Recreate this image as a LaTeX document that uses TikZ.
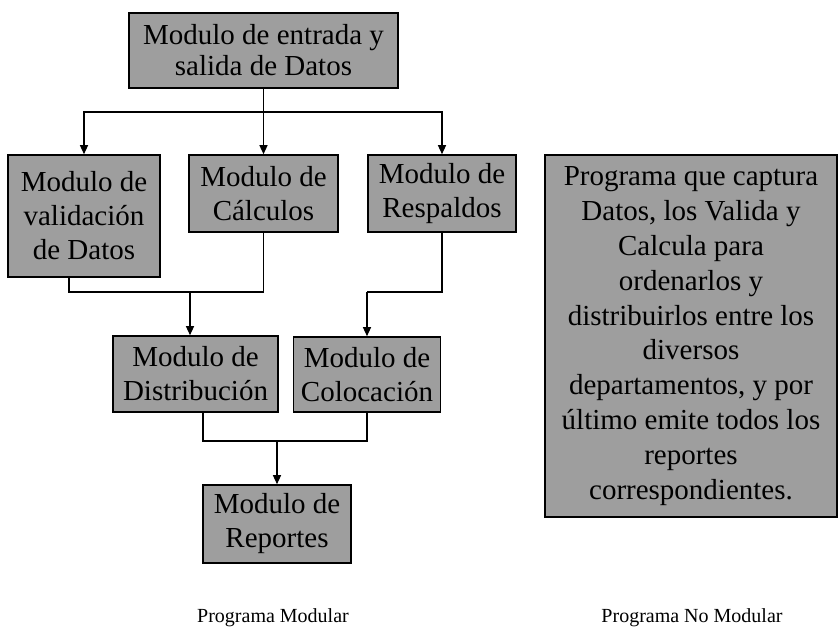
\documentclass[tikz,border=0pt]{standalone}
\usepackage{fontspec}
\setmainfont{Liberation Serif}
\usetikzlibrary{arrows.meta}
\definecolor{boxgray}{RGB}{158,158,158}
\begin{document}
\begin{tikzpicture}[x=1pt,y=-1pt,
  modbox/.style={draw=black, line width=1.6pt, fill=boxgray, inner sep=0pt,
    align=center, font=\fontsize{29}{34}\selectfont},
  link/.style={line width=1.3pt},
  flow/.style={link, -{Triangle[length=9pt,width=8pt]}},
  caption/.style={font=\fontsize{20}{24}\selectfont}]
\useasboundingbox (0,0) rectangle (838,633);

% modules of the modular program
\node[modbox, minimum width=269pt, minimum height=75pt,
      font=\fontsize{29}{31}\selectfont] (top) at (263.5,50.5)
  {Modulo de entrada y\\salida de Datos};
\node[modbox, minimum width=152pt, minimum height=122pt] (val) at (84,216)
  {Modulo de\\validación\\de Datos};
\node[modbox, minimum width=149pt, minimum height=77pt] (calc) at (263.5,193.5)
  {Modulo de\\Cálculos};
\node[modbox, minimum width=148pt, minimum height=77pt] (resp) at (442,193.5)
  {Modulo de\\Respaldos};
\node[modbox, minimum width=165pt, minimum height=76pt] (dist) at (195.5,374)
  {Modulo de\\Distribución};
\node[modbox, minimum width=147pt, minimum height=75pt] (coloc) at (367,374.5)
  {Modulo de\\Colocación};
\node[modbox, minimum width=148pt, minimum height=78pt] (rep) at (277,524)
  {Modulo de\\Reportes};

% the single block of the non-modular program
\node[modbox, minimum width=292pt, minimum height=362pt,
      font=\fontsize{29}{34.8}\selectfont] (mono) at (691,336)
  {Programa que captura\\Datos, los Valida y\\Calcula para\\ordenarlos y\\
   distribuirlos entre los\\diversos\\departamentos, y por\\
   último emite todos los\\reportes\\correspondientes.};

% connectors
\coordinate (split) at (263.5,112);
\draw[link] (top.south) -- (split);
\draw[flow] (split) -| (val.north);
\draw[flow] (split) -- (calc.north);
\draw[flow] (split) -| (resp.north);

\coordinate (m1) at (69,292);
\coordinate (j2) at (190,292);
\draw[link] (val.south -| m1) -- (m1) -| (calc.south);
\draw[flow] (j2) -- (dist.north -| j2);

\coordinate (m2) at (367,292);
\draw[link] (resp.south) |- (m2);
\draw[flow] (m2) -- (coloc.north);

\coordinate (m3) at (203,441);
\coordinate (j3) at (277,441);
\draw[link] (dist.south -| m3) -- (m3) -| (coloc.south);
\draw[flow] (j3) -- (rep.north);

% captions
\node[caption] (capmod) at (273,618) {Programa Modular};
\node[caption] (capnomod) at (692,618) {Programa No Modular};
\end{tikzpicture}
\end{document}
